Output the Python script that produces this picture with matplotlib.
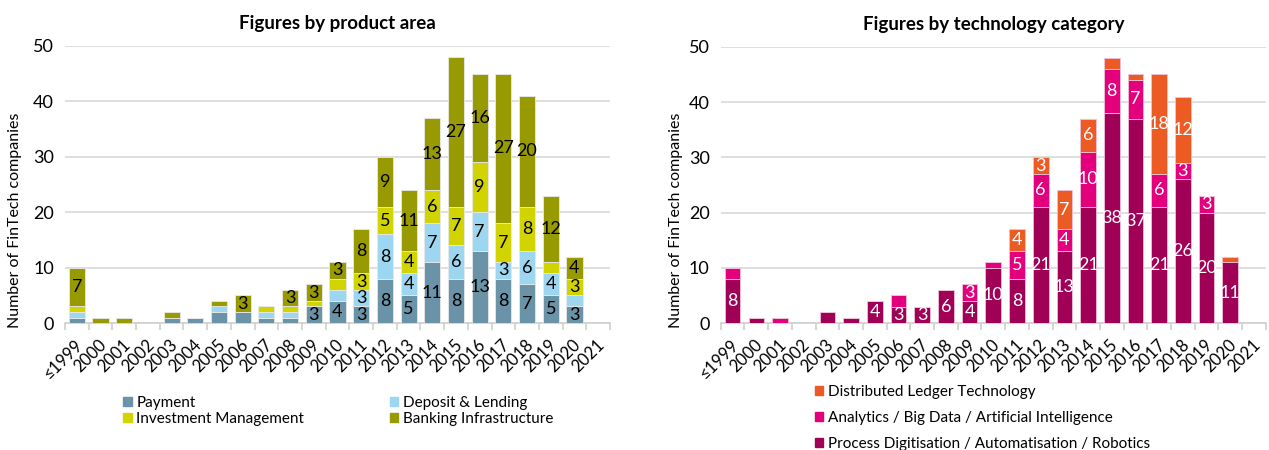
import numpy as np
import matplotlib.pyplot as plt
from matplotlib.patches import Patch

plt.rcParams["font.family"] = ["Lato", "DejaVu Sans"]

years = ["≤1999"] + [str(y) for y in range(2000, 2022)]

# product area
payment = [1, 0, 0, 0, 1, 1, 2, 2, 1, 1, 3, 4, 3, 8, 5, 11, 8, 13, 8, 7, 5, 3, 0]
deposit = [1, 0, 0, 0, 0, 0, 1, 0, 1, 1, 0, 2, 3, 8, 4, 7, 6, 7, 3, 6, 4, 2, 0]
investment = [1, 0, 0, 0, 0, 0, 0, 0, 1, 1, 1, 2, 3, 5, 4, 6, 7, 9, 7, 8, 2, 3, 0]
banking = [7, 1, 1, 0, 1, 0, 1, 3, 0, 3, 3, 3, 8, 9, 11, 13, 27, 16, 27, 20, 12, 4, 0]

# technology category
process = [8, 1, 0, 0, 2, 1, 4, 3, 3, 6, 4, 10, 8, 21, 13, 21, 38, 37, 21, 26, 20, 11, 0]
analytics = [2, 0, 1, 0, 0, 0, 0, 2, 0, 0, 3, 1, 5, 6, 4, 10, 8, 7, 6, 3, 3, 0, 0]
dlt = [0, 0, 0, 0, 0, 0, 0, 0, 0, 0, 0, 0, 4, 3, 7, 6, 2, 1, 18, 12, 0, 1, 0]

left_series = [("Payment", payment, "#6a93a8"),
               ("Deposit & Lending", deposit, "#9dd6f0"),
               ("Investment Management", investment, "#d1d400"),
               ("Banking Infrastructure", banking, "#979a00")]
right_series = [("Process Digitisation / Automatisation / Robotics", process, "#a00056"),
                ("Analytics / Big Data / Artificial Intelligence", analytics, "#e4007c"),
                ("Distributed Ledger Technology", dlt, "#ec5b24")]

fig = plt.figure(figsize=(12.69, 4.5), dpi=100)
ax1 = fig.add_axes([0.0512, 0.282, 0.4295, 0.616])
ax2 = fig.add_axes([0.568, 0.282, 0.4295, 0.614])

x = np.arange(len(years))


def draw(ax, series, width, label_color, edge):
    bottom = np.zeros(len(years))
    for name, vals, col in series:
        vals = np.array(vals)
        ax.bar(x, vals, width, bottom=bottom, color=col, edgecolor=edge,
               linewidth=0.6, label=name, zorder=3)
        for i, v in enumerate(vals):
            if v >= 3:
                ax.text(x[i], bottom[i] + v / 2, str(v), ha="center", va="center",
                        fontsize=13, color=label_color, zorder=4)
        bottom += vals
    ax.set_xlim(-0.5, len(years) - 0.5)
    ax.set_ylim(0, 50)
    ax.set_yticks(range(0, 51, 10))
    ax.yaxis.grid(True, color="#d9d9d9", linewidth=1.2, zorder=0)
    ax.set_axisbelow(True)
    for s in ["top", "right", "left"]:
        ax.spines[s].set_visible(False)
    ax.spines["bottom"].set_color("#d0d0d0")
    ax.spines["bottom"].set_linewidth(1.2)
    ax.set_xticks(x + 0.15)
    ax.set_xticklabels(years, rotation=45, ha="right", va="center",
                       rotation_mode="anchor", fontsize=12)
    ax.tick_params(axis="x", length=0, pad=14)
    ax.set_xticks(np.arange(-0.5, len(years), 1), minor=True)
    ax.tick_params(axis="x", which="minor", length=5, color="#d0d0d0", width=1.2)
    ax.tick_params(axis="y", length=0, labelsize=13, pad=8)
    ax.set_ylabel("Number of FinTech companies", fontsize=11.5)


draw(ax1, left_series, 0.68, "black", "#e8e8e8")
draw(ax2, right_series, 0.66, "white", "#f0c0d8")
ax1.yaxis.set_label_coords(-0.079, 0.372)
ax2.yaxis.set_label_coords(-0.07, 0.372)

ax1.set_title("Figures by product area", fontsize=13.5, fontweight="bold", pad=12)
ax2.set_title("Figures by technology category", fontsize=13.5, fontweight="bold", pad=12)

h1 = [Patch(color=c, label=n) for n, v, c in left_series]
ax1.legend(handles=[h1[0], h1[2], h1[1], h1[3]], ncol=2, loc="upper left",
           bbox_to_anchor=(0.093, -0.235), frameon=False, fontsize=11,
           handlelength=0.55, handleheight=0.55, handletextpad=0.3,
           columnspacing=5.6, labelspacing=0.15, borderpad=0)

h2 = [Patch(color=c, label=n) for n, v, c in right_series][::-1]
ax2.legend(handles=h2, ncol=1, loc="upper left", bbox_to_anchor=(0.158, -0.197),
           frameon=False, fontsize=11, handlelength=0.55, handleheight=0.55,
           handletextpad=0.3, labelspacing=0.77, borderpad=0)

fig.savefig("out.png", dpi=100)
